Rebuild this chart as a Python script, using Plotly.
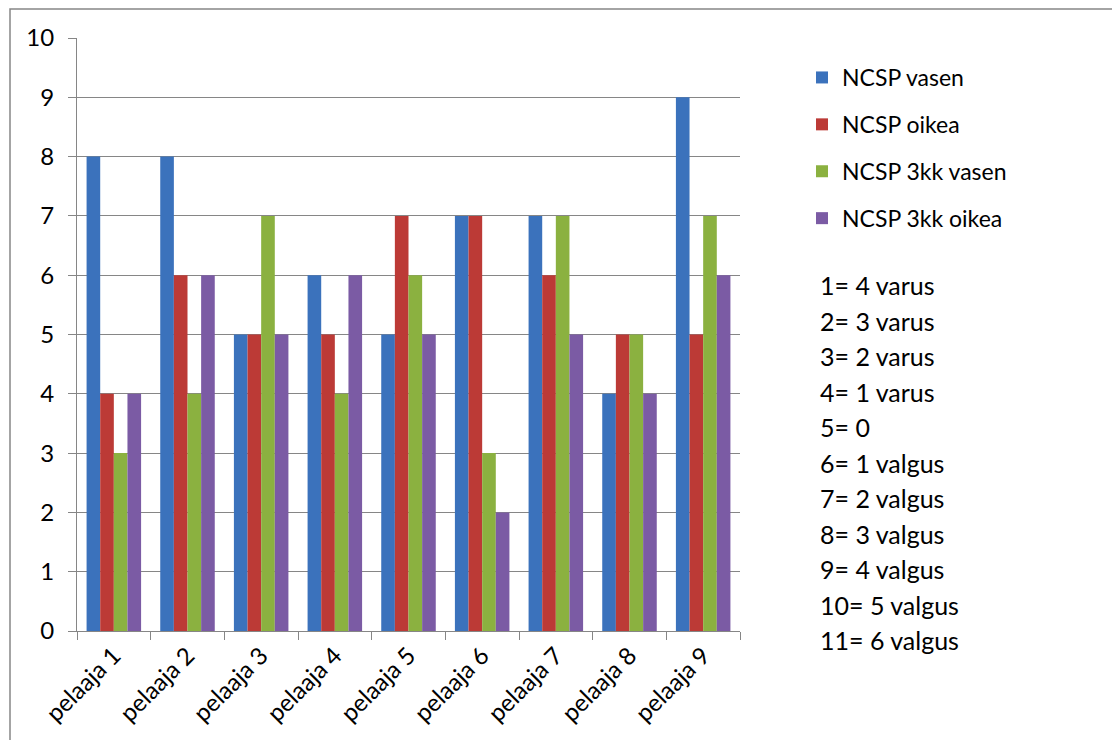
import plotly.graph_objects as go

categories = [f"pelaaja {i}" for i in range(1, 10)]
series_names = ["NCSP vasen", "NCSP oikea", "NCSP 3kk vasen", "NCSP 3kk oikea"]
ncsp_vasen = [8, 8, 5, 6, 5, 7, 7, 4, 9]
ncsp_oikea = [4, 6, 5, 5, 7, 7, 6, 5, 5]
ncsp_3kk_vasen = [3, 4, 7, 4, 6, 3, 7, 5, 7]
ncsp_3kk_oikea = [4, 6, 5, 6, 5, 2, 5, 4, 6]
colors = ["#3B72BC", "#BC3A36", "#8BB140", "#7B5BA4"]
key_lines = ["1= 4 varus", "2= 3 varus", "3= 2 varus", "4= 1 varus", "5= 0",
             "6= 1 valgus", "7= 2 valgus", "8= 3 valgus", "9= 4 valgus",
             "10= 5 valgus", "11= 6 valgus"]

FONT = "Lato"
series = [ncsp_vasen, ncsp_oikea, ncsp_3kk_vasen, ncsp_3kk_oikea]

fig = go.Figure()
for name, vals, col in zip(series_names, series, colors):
    fig.add_trace(go.Bar(x=categories, y=vals, name=name, legendgroup=name,
                         marker=dict(color=col, line=dict(width=0))))

OFF = 8  # page body margin
W, H = 1120, 740
# plot area in page coords: x 77..740, y 38..631
L = 77 - OFF
T = 38 - OFF
pw, ph = 663, 593
R = W - L - pw
B = H - T - ph

def px_x(x):
    return (x - OFF - L) / pw

def px_y(y):
    return (T + ph - (y - OFF)) / ph

fig.update_layout(
    width=W, height=H,
    margin=dict(l=L, r=R, t=T, b=B, autoexpand=False),
    paper_bgcolor="white", plot_bgcolor="white",
    barmode="group", bargap=0.26, bargroupgap=0,
    font=dict(family=FONT, size=20, color="black"),
    showlegend=True,
    legend=dict(x=px_x(802), y=px_y(56), xanchor="left", yanchor="top",
                traceorder="grouped", tracegroupgap=14,
                font=dict(family=FONT, size=23, color="black"),
                itemwidth=30, bgcolor="rgba(0,0,0,0)"),
    xaxis=dict(showline=True, linecolor="#868686", linewidth=1,
               ticks="outside", ticklen=8, tickcolor="#868686",
               tickson="boundaries", tickangle=-45, automargin=False,
               tickfont=dict(family=FONT, size=24), showgrid=False),
    yaxis=dict(range=[0, 10], dtick=1, showline=True, linecolor="#868686",
               linewidth=1, ticks="outside", ticklen=8, tickcolor="#868686",
               ticklabelstandoff=9,
               showgrid=True, gridcolor="#868686", gridwidth=1, automargin=False,
               tickfont=dict(family=FONT, size=24), zeroline=False),
)

for i, line in enumerate(key_lines):
    fig.add_annotation(text=line, xref="paper", yref="paper",
                       x=px_x(818), y=px_y(285 + i * 35.5),
                       xanchor="left", yanchor="middle", showarrow=False,
                       font=dict(family=FONT, size=25, color="black"))

fig.add_shape(type="rect", xref="paper", yref="paper",
              x0=px_x(10), x1=px_x(1300), y0=px_y(900), y1=px_y(9),
              line=dict(color="#868686", width=1.5), layer="below")

fig.write_html("out.html")
